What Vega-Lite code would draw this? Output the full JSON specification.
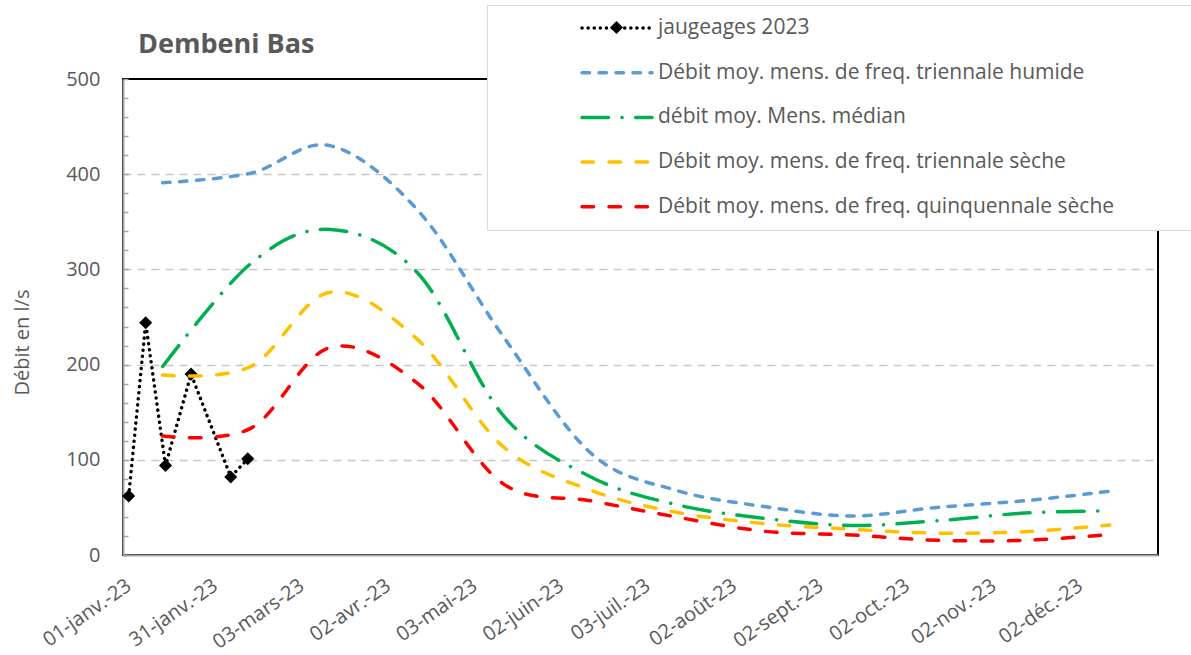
{
  "$schema": "https://vega.github.io/schema/vega-lite/v6.json",
  "width": 1035,
  "height": 476,
  "autosize": {"type": "none"},
  "padding": {"left": 123, "top": 79, "right": 33, "bottom": 100},
  "background": "white",
  "title": {
    "text": "Dembeni Bas",
    "orient": "none",
    "anchor": "start",
    "frame": "group",
    "dx": 15,
    "dy": -26,
    "baseline": "alphabetic",
    "font": "Open Sans",
    "fontSize": 27,
    "fontWeight": "bold",
    "color": "#595959"
  },
  "datasets": {
    "mensuel": [
      {"date": "2023-01-15", "serie": "Débit moy. mens. de freq. triennale humide", "debit": 391},
      {"date": "2023-02-15", "serie": "Débit moy. mens. de freq. triennale humide", "debit": 401},
      {"date": "2023-03-15", "serie": "Débit moy. mens. de freq. triennale humide", "debit": 430},
      {"date": "2023-04-15", "serie": "Débit moy. mens. de freq. triennale humide", "debit": 362},
      {"date": "2023-05-15", "serie": "Débit moy. mens. de freq. triennale humide", "debit": 230},
      {"date": "2023-06-15", "serie": "Débit moy. mens. de freq. triennale humide", "debit": 107},
      {"date": "2023-07-15", "serie": "Débit moy. mens. de freq. triennale humide", "debit": 68},
      {"date": "2023-08-15", "serie": "Débit moy. mens. de freq. triennale humide", "debit": 51},
      {"date": "2023-09-15", "serie": "Débit moy. mens. de freq. triennale humide", "debit": 41},
      {"date": "2023-10-15", "serie": "Débit moy. mens. de freq. triennale humide", "debit": 50},
      {"date": "2023-11-15", "serie": "Débit moy. mens. de freq. triennale humide", "debit": 57},
      {"date": "2023-12-15", "serie": "Débit moy. mens. de freq. triennale humide", "debit": 67},
      {"date": "2023-01-15", "serie": "débit moy. Mens. médian", "debit": 198},
      {"date": "2023-02-15", "serie": "débit moy. Mens. médian", "debit": 306},
      {"date": "2023-03-15", "serie": "débit moy. Mens. médian", "debit": 342},
      {"date": "2023-04-15", "serie": "débit moy. Mens. médian", "debit": 296},
      {"date": "2023-05-15", "serie": "débit moy. Mens. médian", "debit": 147},
      {"date": "2023-06-15", "serie": "débit moy. Mens. médian", "debit": 82},
      {"date": "2023-07-15", "serie": "débit moy. Mens. médian", "debit": 53},
      {"date": "2023-08-15", "serie": "débit moy. Mens. médian", "debit": 38.5},
      {"date": "2023-09-15", "serie": "débit moy. Mens. médian", "debit": 31},
      {"date": "2023-10-15", "serie": "débit moy. Mens. médian", "debit": 36},
      {"date": "2023-11-15", "serie": "débit moy. Mens. médian", "debit": 44},
      {"date": "2023-12-15", "serie": "débit moy. Mens. médian", "debit": 46.5},
      {"date": "2023-01-15", "serie": "Débit moy. mens. de freq. triennale sèche", "debit": 189},
      {"date": "2023-02-15", "serie": "Débit moy. mens. de freq. triennale sèche", "debit": 198},
      {"date": "2023-03-15", "serie": "Débit moy. mens. de freq. triennale sèche", "debit": 276},
      {"date": "2023-04-15", "serie": "Débit moy. mens. de freq. triennale sèche", "debit": 226},
      {"date": "2023-05-15", "serie": "Débit moy. mens. de freq. triennale sèche", "debit": 114},
      {"date": "2023-06-15", "serie": "Débit moy. mens. de freq. triennale sèche", "debit": 68},
      {"date": "2023-07-15", "serie": "Débit moy. mens. de freq. triennale sèche", "debit": 45},
      {"date": "2023-08-15", "serie": "Débit moy. mens. de freq. triennale sèche", "debit": 33},
      {"date": "2023-09-15", "serie": "Débit moy. mens. de freq. triennale sèche", "debit": 27},
      {"date": "2023-10-15", "serie": "Débit moy. mens. de freq. triennale sèche", "debit": 23},
      {"date": "2023-11-15", "serie": "Débit moy. mens. de freq. triennale sèche", "debit": 24.5},
      {"date": "2023-12-15", "serie": "Débit moy. mens. de freq. triennale sèche", "debit": 31.5},
      {"date": "2023-01-15", "serie": "Débit moy. mens. de freq. quinquennale sèche", "debit": 125},
      {"date": "2023-02-15", "serie": "Débit moy. mens. de freq. quinquennale sèche", "debit": 133},
      {"date": "2023-03-15", "serie": "Débit moy. mens. de freq. quinquennale sèche", "debit": 218},
      {"date": "2023-04-15", "serie": "Débit moy. mens. de freq. quinquennale sèche", "debit": 180},
      {"date": "2023-05-15", "serie": "Débit moy. mens. de freq. quinquennale sèche", "debit": 75},
      {"date": "2023-06-15", "serie": "Débit moy. mens. de freq. quinquennale sèche", "debit": 57},
      {"date": "2023-07-15", "serie": "Débit moy. mens. de freq. quinquennale sèche", "debit": 40},
      {"date": "2023-08-15", "serie": "Débit moy. mens. de freq. quinquennale sèche", "debit": 25},
      {"date": "2023-09-15", "serie": "Débit moy. mens. de freq. quinquennale sèche", "debit": 21},
      {"date": "2023-10-15", "serie": "Débit moy. mens. de freq. quinquennale sèche", "debit": 15.5},
      {"date": "2023-11-15", "serie": "Débit moy. mens. de freq. quinquennale sèche", "debit": 15.5},
      {"date": "2023-12-15", "serie": "Débit moy. mens. de freq. quinquennale sèche", "debit": 21.5}
    ],
    "jaugeages": [
      {"date": "2023-01-03", "serie": "jaugeages 2023", "pt": "jaugeages 2023", "debit": 62},
      {"date": "2023-01-09", "serie": "jaugeages 2023", "pt": "jaugeages 2023", "debit": 244},
      {"date": "2023-01-16", "serie": "jaugeages 2023", "pt": "jaugeages 2023", "debit": 94},
      {"date": "2023-01-25", "serie": "jaugeages 2023", "pt": "jaugeages 2023", "debit": 190},
      {"date": "2023-02-08", "serie": "jaugeages 2023", "pt": "jaugeages 2023", "debit": 82},
      {"date": "2023-02-14", "serie": "jaugeages 2023", "pt": "jaugeages 2023", "debit": 101}
    ]
  },
  "encoding": {
    "x": {
      "field": "date",
      "type": "temporal",
      "scale": {
        "type": "utc",
        "domain": [
          {"year": 2023, "month": 1, "date": 1, "utc": true},
          {"year": 2024, "month": 1, "date": 1, "utc": true}
        ]
      },
      "axis": {
        "title": null,
        "values": [
          {"year": 2023, "month": 1, "date": 1, "utc": true},
          {"year": 2023, "month": 1, "date": 31, "hours": 12, "utc": true},
          {"year": 2023, "month": 3, "date": 3, "utc": true},
          {"year": 2023, "month": 4, "date": 2, "hours": 12, "utc": true},
          {"year": 2023, "month": 5, "date": 3, "utc": true},
          {"year": 2023, "month": 6, "date": 2, "hours": 12, "utc": true},
          {"year": 2023, "month": 7, "date": 3, "utc": true},
          {"year": 2023, "month": 8, "date": 2, "hours": 12, "utc": true},
          {"year": 2023, "month": 9, "date": 2, "utc": true},
          {"year": 2023, "month": 10, "date": 2, "hours": 12, "utc": true},
          {"year": 2023, "month": 11, "date": 2, "utc": true},
          {"year": 2023, "month": 12, "date": 2, "hours": 12, "utc": true}
        ],
        "labelExpr": "(utcdate(datum.value) < 10 ? '0' : '') + utcdate(datum.value) + '-' + ['janv.','févr.','mars','avr.','mai','juin','juil.','août','sept.','oct.','nov.','déc.'][utcmonth(datum.value)] + '-23'",
        "labelAngle": -35,
        "labelAlign": "right",
        "labelBaseline": "top",
        "labelPadding": 20,
        "labelFont": "Open Sans",
        "labelFontSize": 20,
        "labelColor": "#595959",
        "labelOverlap": false,
        "labelBound": false,
        "labelFlush": false,
        "ticks": false,
        "grid": false,
        "domainColor": "#a6a6a6",
        "domainWidth": 2
      }
    },
    "y": {
      "field": "debit",
      "type": "quantitative",
      "scale": {"domain": [0, 500], "nice": false, "zero": true},
      "axis": {
        "title": "Débit en l/s",
        "titleFont": "Open Sans",
        "titleFontSize": 20,
        "titleFontWeight": "normal",
        "titleColor": "#595959",
        "titlePadding": 33,
        "titleY": 263,
        "values": [0, 20, 40, 60, 80, 100, 120, 140, 160, 180, 200, 220, 240, 260, 280, 300, 320, 340, 360, 380, 400, 420, 440, 460, 480, 500],
        "labelExpr": "datum.value % 100 === 0 ? datum.label : ''",
        "labelFont": "Open Sans",
        "labelFontSize": 20,
        "labelColor": "#595959",
        "labelPadding": 28,
        "tickSize": -5,
        "tickColor": "#a6a6a6",
        "tickWidth": 1.5,
        "domainColor": "#a6a6a6",
        "domainWidth": 2,
        "grid": true,
        "gridColor": "#c8c8c8",
        "gridDash": [8, 6],
        "gridWidth": 1.5,
        "gridOpacity": {"condition": {"test": "datum.value % 100 === 0 && datum.value > 0 && datum.value < 500", "value": 1}, "value": 0}
      }
    }
  },
  "layer": [
    {
      "data": {"name": "jaugeages"},
      "mark": {"type": "line", "strokeWidth": 3.5, "strokeCap": "round", "interpolate": "linear"},
      "encoding": {
        "color": {
          "field": "serie",
          "type": "nominal",
          "scale": {
            "domain": ["jaugeages 2023", "Débit moy. mens. de freq. triennale humide", "débit moy. Mens. médian", "Débit moy. mens. de freq. triennale sèche", "Débit moy. mens. de freq. quinquennale sèche"],
            "range": ["#000000", "#5b9bd5", "#00b050", "#ffc000", "#ff0000"]
          },
          "legend": {
            "orient": "none",
            "legendX": 364,
            "legendY": -74,
            "title": " ",
            "titleOrient": "left",
            "titleFontSize": 1,
            "titlePadding": 82,
            "fillColor": "white",
            "strokeColor": "#d9d9d9",
            "padding": 11,
            "symbolType": "stroke",
            "symbolSize": 4900,
            "symbolStrokeWidth": 3.5,
            "clipHeight": 24,
            "rowPadding": 20.7,
            "labelFont": "Open Sans",
            "labelFontSize": 21,
            "labelColor": "#595959",
            "labelOffset": 4,
            "labelLimit": 2000,
            "labelExpr": "datum.label + '\u2800\u2800\u00a0\u2800\u2800\u2800'",
            "encode": {"symbols": {"update": {"strokeCap": {"value": "round"}}}}
          }
        },
        "strokeDash": {
          "field": "serie",
          "type": "nominal",
          "scale": {
            "domain": ["jaugeages 2023", "Débit moy. mens. de freq. triennale humide", "débit moy. Mens. médian", "Débit moy. mens. de freq. triennale sèche", "Débit moy. mens. de freq. quinquennale sèche"],
            "range": [[0.1, 6], [7.5, 9.5], [26.5, 13.5, 0.1, 13.5], [11.5, 15.5], [11.5, 15.5]]
          },
          "legend": {
            "orient": "none",
            "legendX": 364,
            "legendY": -74,
            "title": " ",
            "titleOrient": "left",
            "titleFontSize": 1,
            "titlePadding": 82,
            "fillColor": "white",
            "strokeColor": "#d9d9d9",
            "padding": 11,
            "symbolType": "stroke",
            "symbolSize": 4900,
            "symbolStrokeWidth": 3.5,
            "clipHeight": 24,
            "rowPadding": 20.7,
            "labelFont": "Open Sans",
            "labelFontSize": 21,
            "labelColor": "#595959",
            "labelOffset": 4,
            "labelLimit": 2000,
            "labelExpr": "datum.label + '\u2800\u2800\u00a0\u2800\u2800\u2800'",
            "encode": {"symbols": {"update": {"strokeCap": {"value": "round"}}}}
          }
        }
      }
    },
    {
      "data": {"name": "jaugeages"},
      "mark": {"type": "point", "filled": true, "opacity": 1, "color": "black", "size": 170},
      "encoding": {
        "shape": {
          "field": "pt",
          "type": "nominal",
          "scale": {"domain": ["jaugeages 2023"], "range": ["diamond"]},
          "legend": {
            "orient": "none",
            "legendX": 486.5,
            "legendY": -58.5,
            "title": null,
            "labelExpr": "''",
            "padding": 0,
            "symbolSize": 170,
            "symbolFillColor": "black",
            "symbolStrokeColor": "black",
            "symbolStrokeWidth": 0,
            "zindex": 5
          }
        }
      }
    },
    {
      "data": {"name": "mensuel"},
      "mark": {"type": "line", "strokeWidth": 3.5, "strokeCap": "round", "interpolate": "cardinal"},
      "encoding": {
        "color": {"field": "serie", "type": "nominal"},
        "strokeDash": {"field": "serie", "type": "nominal"}
      }
    }
  ],
  "resolve": {"scale": {"color": "shared", "strokeDash": "shared"}},
  "config": {
    "view": {"stroke": "black", "strokeWidth": 2}
  }
}
